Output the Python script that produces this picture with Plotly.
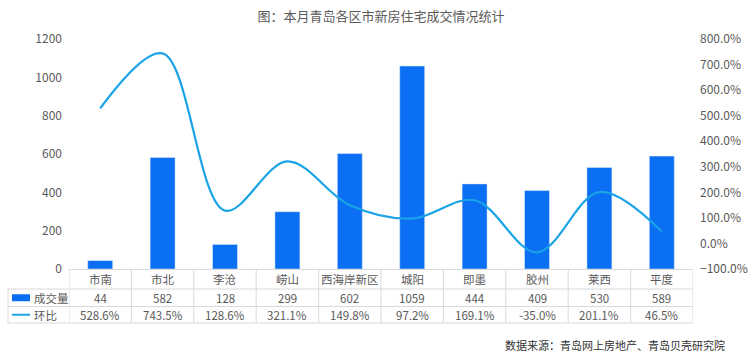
import plotly.graph_objects as go

categories = ["市南", "市北", "李沧", "崂山", "西海岸新区", "城阳", "即墨", "胶州", "莱西", "平度"]
volume = [44, 582, 128, 299, 602, 1059, 444, 409, 530, 589]
mom_pct = [528.6, 743.5, 128.6, 321.1, 149.8, 97.2, 169.1, -35.0, 201.1, 46.5]
left_ticks = [0, 200, 400, 600, 800, 1000, 1200]
right_ticks = [-100, 0, 100, 200, 300, 400, 500, 600, 700, 800]
series_names = ["成交量", "环比"]
title_text = "图：本月青岛各区市新房住宅成交情况统计"
source_text = "数据来源：青岛网上房地产、青岛贝壳研究院"

BAR_COLOR = "#0a6ff2"
LINE_COLOR = "#1aa3e6"
GRID = "#d9d9d9"
TXT = "#595959"
FONT = "Noto Sans CJK SC"
CELL_SIZE = 11.5

W, H = 750, 359
L, R, T, B = 69, 57, 39, 90
plot_w = W - L - R
plot_h = H - T - B


def py(px):  # pixel y -> paper y
    return (H - B - px) / plot_h


def pxx(px):  # pixel x -> paper x
    return (px - L) / plot_w


fig = go.Figure()
fig.add_trace(go.Bar(x=categories, y=volume, name=series_names[0], marker_color=BAR_COLOR,
                     width=0.4, yaxis="y", showlegend=False))
fig.add_trace(go.Scatter(x=categories, y=[v / 100 for v in mom_pct], name=series_names[1],
                         mode="lines", line=dict(color=LINE_COLOR, width=2.2, shape="spline", smoothing=1.0),
                         yaxis="y2", showlegend=False))

shapes = []
annotations = []
n = len(categories)
row_lines = [269.5, 289, 306.5, 323]
# horizontal lines
shapes.append(dict(type="line", xref="x", yref="paper", x0=-0.5, x1=n - 0.5,
                   y0=py(row_lines[0]), y1=py(row_lines[0]), line=dict(color=GRID, width=1)))
for yl in row_lines[1:]:
    shapes.append(dict(type="line", xref="paper", yref="paper", x0=pxx(8), x1=1,
                       y0=py(yl), y1=py(yl), line=dict(color=GRID, width=1)))
# vertical lines
for i in range(n + 1):
    shapes.append(dict(type="line", xref="x", yref="paper", x0=i - 0.5, x1=i - 0.5,
                       y0=py(row_lines[0]), y1=py(row_lines[-1]), line=dict(color=GRID, width=1)))
shapes.append(dict(type="line", xref="paper", yref="paper", x0=pxx(8), x1=pxx(8),
                   y0=py(row_lines[1]), y1=py(row_lines[-1]), line=dict(color=GRID, width=1)))

row_centers = [(row_lines[0] + row_lines[1]) / 2, (row_lines[1] + row_lines[2]) / 2,
               (row_lines[2] + row_lines[3]) / 2]


def cell(x, xref, y, text, xanchor="center", color=TXT, size=CELL_SIZE):
    return dict(x=x, xref=xref, y=y, yref="paper", text=text, showarrow=False,
                xanchor=xanchor, yanchor="middle", font=dict(size=size, color=color, family=FONT))


for i, c in enumerate(categories):
    annotations.append(cell(c, "x", py(row_centers[0]), c))
    annotations.append(cell(c, "x", py(row_centers[1]), str(volume[i])))
    annotations.append(cell(c, "x", py(row_centers[2]), f"{mom_pct[i]:.1f}%"))

# legend in the table
shapes.append(dict(type="rect", xref="paper", yref="paper", x0=pxx(12), x1=pxx(30),
                   y0=py(row_centers[1] + 3.5), y1=py(row_centers[1] - 3.5), fillcolor=BAR_COLOR, line=dict(width=0)))
shapes.append(dict(type="line", xref="paper", yref="paper", x0=pxx(12), x1=pxx(30),
                   y0=py(row_centers[2]), y1=py(row_centers[2]), line=dict(color=LINE_COLOR, width=2)))
annotations.append(cell(pxx(32), "paper", py(row_centers[1]), series_names[0], xanchor="left"))
annotations.append(cell(pxx(32), "paper", py(row_centers[2]), series_names[1], xanchor="left"))

annotations.append(cell(pxx(727), "paper", py(345), source_text, xanchor="right", color="#333333", size=11))

fig.update_layout(
    width=W, height=H,
    margin=dict(l=L, r=R, t=T, b=B, autoexpand=False),
    paper_bgcolor="white", plot_bgcolor="white",
    title=dict(text=title_text, x=0.5, xref="paper", xanchor="center", y=1 - 16 / H, yanchor="middle",
               font=dict(size=13, color=TXT, family=FONT)),
    font=dict(family=FONT, size=12, color=TXT),
    xaxis=dict(showticklabels=False, showgrid=False, zeroline=False, showline=False,
               range=[-0.5, n - 0.5], fixedrange=True),
    yaxis=dict(range=[0, 1200], tickvals=left_ticks, showgrid=False, zeroline=False, showline=False,
               tickfont=dict(size=12, color=TXT), ticks="", ticklabelstandoff=6),
    yaxis2=dict(range=[-1, 8], tickvals=[v / 100 for v in right_ticks], tickformat=".1%",
                overlaying="y", side="right", showgrid=False, zeroline=False, showline=False,
                tickfont=dict(size=12, color=TXT), ticks="", ticklabelstandoff=6),
    bargap=0.6,
    shapes=shapes,
    annotations=annotations,
)

fig.write_html("out.html", config={"displayModeBar": False},
               post_script="document.body.style.margin='0';document.body.style.overflow='hidden';")
